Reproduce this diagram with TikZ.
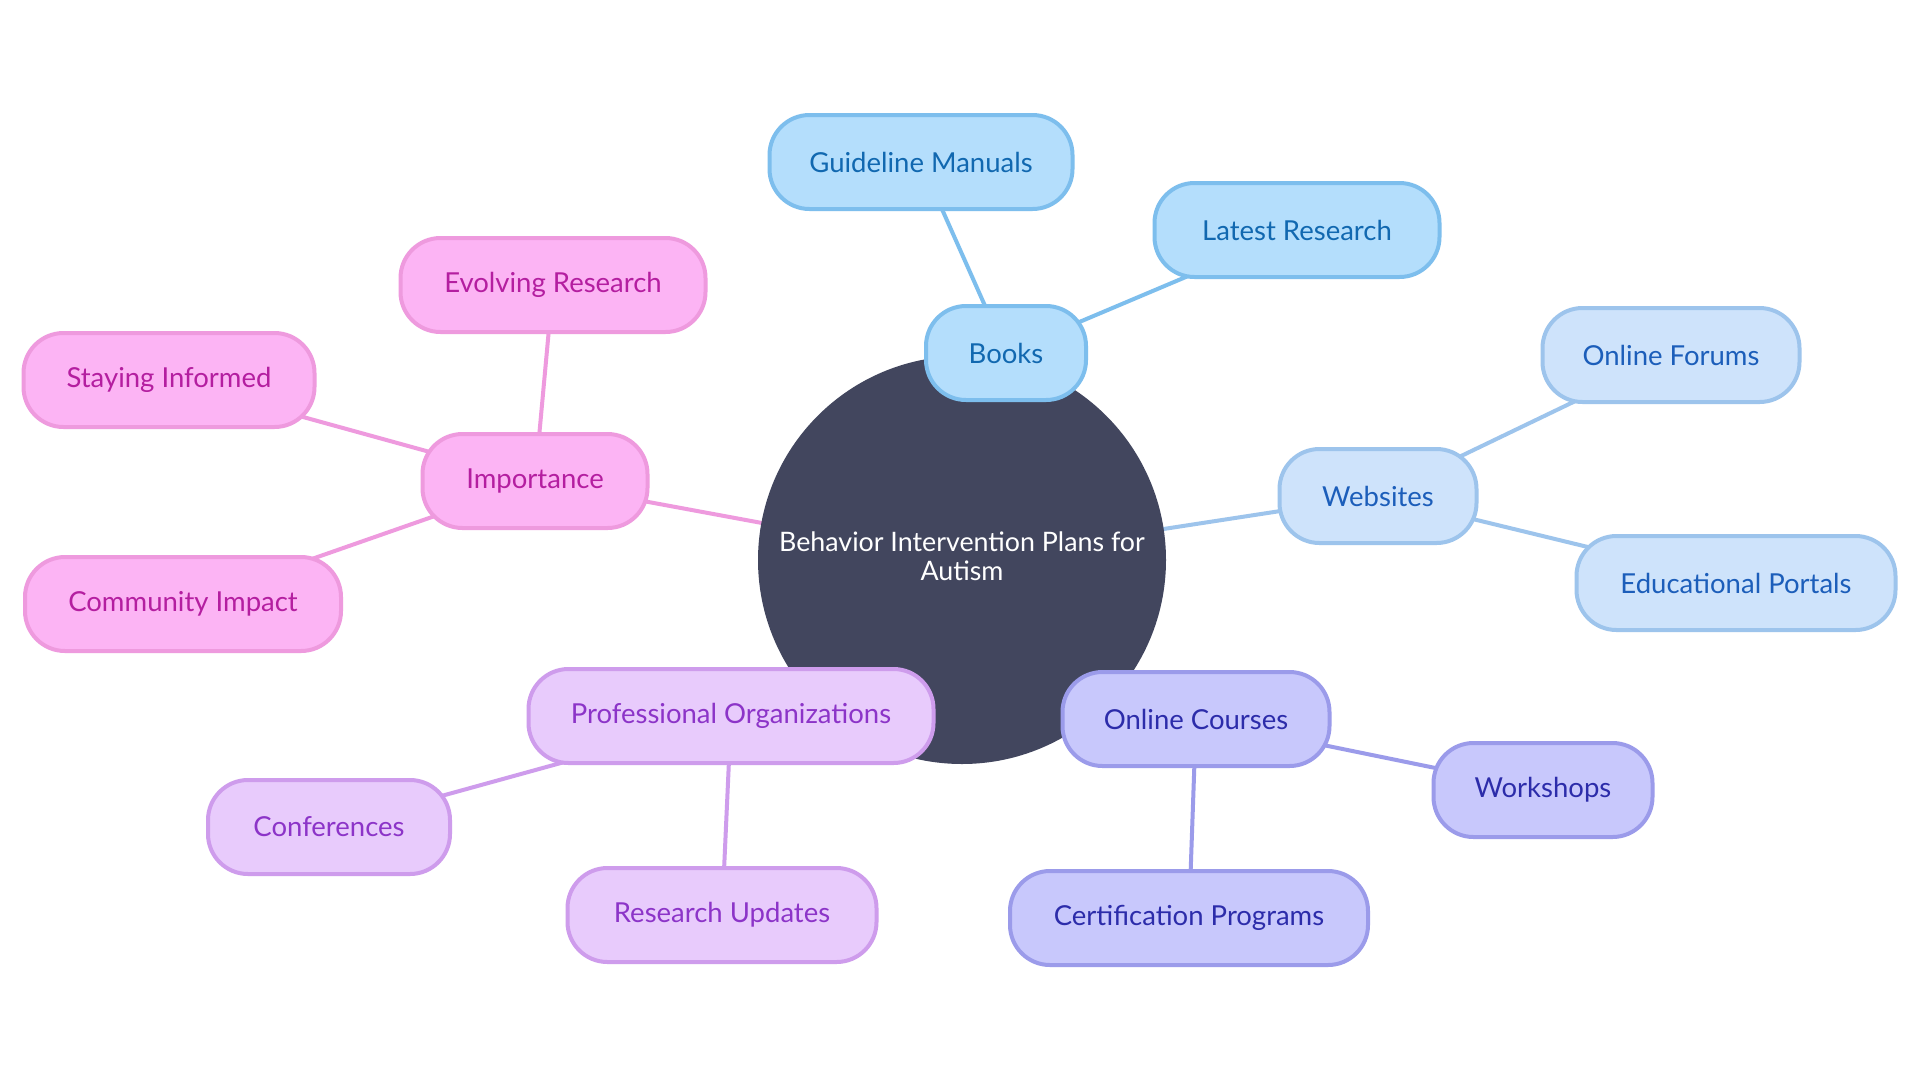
\documentclass[tikz,border=0pt]{standalone}
\usepackage{fontspec}
\setmainfont{Lato}
\usetikzlibrary{backgrounds}
\definecolor{centerF}{HTML}{42465E}
\definecolor{bookF}{HTML}{B4DEFC}
\definecolor{bookD}{HTML}{7DBEED}
\definecolor{bookT}{HTML}{1168B0}
\definecolor{webF}{HTML}{CEE3FB}
\definecolor{webD}{HTML}{9DC4EC}
\definecolor{webT}{HTML}{1C5EBA}
\definecolor{crsF}{HTML}{C8C8FC}
\definecolor{crsD}{HTML}{9B9BEA}
\definecolor{crsT}{HTML}{2C2CAA}
\definecolor{proF}{HTML}{E8CBFC}
\definecolor{proD}{HTML}{CE9CEC}
\definecolor{proT}{HTML}{8C34C8}
\definecolor{impF}{HTML}{FCB4F4}
\definecolor{impD}{HTML}{EE9ADE}
\definecolor{impT}{HTML}{B41EA0}
\begin{document}
\begin{tikzpicture}[x=1pt,y=-1pt,
  box/.style={draw, line width=4pt, rounded corners=40pt, minimum height=94pt, inner sep=0pt,
    font=\fontsize{27.5}{31}\selectfont, align=center},
  bookbox/.style={box, fill=bookF, draw=bookD, text=bookT},
  webbox/.style={box, fill=webF, draw=webD, text=webT},
  crsbox/.style={box, fill=crsF, draw=crsD, text=crsT},
  probox/.style={box, fill=proF, draw=proD, text=proT},
  impbox/.style={box, fill=impF, draw=impD, text=impT},
  bookedge/.style={line width=4pt, draw=bookD},
  webedge/.style={line width=4pt, draw=webD},
  crsedge/.style={line width=4pt, draw=crsD},
  proedge/.style={line width=4pt, draw=proD},
  impedge/.style={line width=4pt, draw=impD}]
\useasboundingbox (0,0) rectangle (1920,1080);

\node[circle, fill=centerF, minimum size=408pt, inner sep=0pt,
  label={[text=white, align=center, font=\fontsize{26.8}{29.5}\selectfont, yshift=4pt]center:Behavior Intervention Plans for\\Autism}] (c) at (962,560) {};

\node[bookbox, minimum width=160pt] (books) at (1006,353) {Books};
\node[bookbox, minimum width=303pt] (guide) at (921,162) {Guideline Manuals};
\node[bookbox, minimum width=285pt] (latest) at (1297,230) {Latest Research};

\node[webbox, minimum width=197pt] (web) at (1378,496) {Websites};
\node[webbox, minimum width=257pt] (forums) at (1671,355) {Online Forums};
\node[webbox, minimum width=319pt] (portals) at (1736,583) {Educational Portals};

\node[crsbox, minimum width=267pt] (courses) at (1196,719) {Online Courses};
\node[crsbox, minimum width=219pt] (workshops) at (1543,790) {Workshops};
\node[crsbox, minimum width=358pt] (cert) at (1189,918) {Certification Programs};

\node[probox, minimum width=405pt] (prof) at (731,716) {Professional Organizations};
\node[probox, minimum width=242pt] (conf) at (329,827) {Conferences};
\node[probox, minimum width=309pt] (resup) at (722,915) {Research Updates};

\node[impbox, minimum width=225pt] (imp) at (535,481) {Importance};
\node[impbox, minimum width=305pt] (evolve) at (553,285) {Evolving Research};
\node[impbox, minimum width=291pt] (stay) at (169,380) {Staying Informed};
\node[impbox, minimum width=316pt] (community) at (183,604) {Community Impact};

\begin{pgfonlayer}{background}
\fill[white] (0,0) rectangle (1920,1080);
\draw[bookedge] (c.center) -- (books.center);
\draw[bookedge] (books.center) -- (guide.center);
\draw[bookedge] (books.center) -- (latest.center);
\draw[webedge] (c.center) -- (web.center);
\draw[webedge] (web.center) -- (forums.center);
\draw[webedge] (web.center) -- (portals.center);
\draw[crsedge] (c.center) -- (courses.center);
\draw[crsedge] (courses.center) -- (workshops.center);
\draw[crsedge] (courses.center) -- (cert.center);
\draw[proedge] (c.center) -- (prof.center);
\draw[proedge] (prof.center) -- (conf.center);
\draw[proedge] (prof.center) -- (resup.center);
\draw[impedge] (c.center) -- (imp.center);
\draw[impedge] (imp.center) -- (evolve.center);
\draw[impedge] (imp.center) -- (stay.center);
\draw[impedge] (imp.center) -- (community.center);
\end{pgfonlayer}
\end{tikzpicture}
\end{document}
